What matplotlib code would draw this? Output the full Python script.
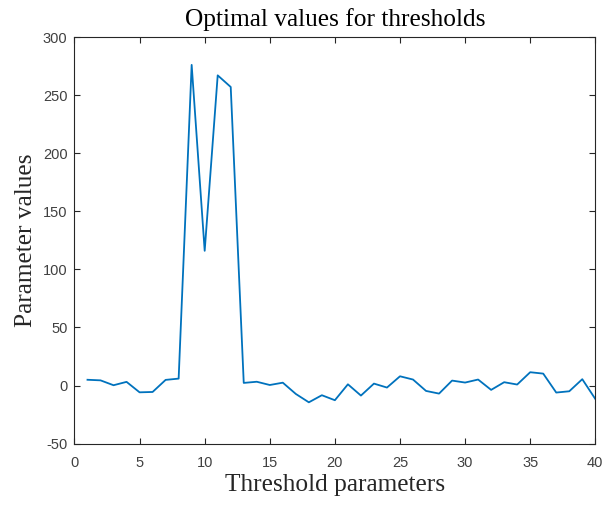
import matplotlib
matplotlib.use("Agg")
import matplotlib.pyplot as plt

plt.rcParams["axes.unicode_minus"] = False

x_values = list(range(1, 41))
param_values = [5, 4.5, 0.3, 3.2, -5.8, -5.5, 4.9, 6,
                276, 116, 267, 257,
                2.3, 3.3, 0.5, 2.5, -7.2, -14.4, -8.3, -12.6,
                1.1, -8.6, 1.7, -1.7, 8.0, 5.2, -4.6, -6.9, 4.3, 2.6,
                5.2, -3.7, 2.9, 0.9, 11.5, 10.3, -6.0, -4.9, 5.5, -11.5]
x_ticks = [0, 5, 10, 15, 20, 25, 30, 35, 40]
y_ticks = [-50, 0, 50, 100, 150, 200, 250, 300]

fig = plt.figure(figsize=(6.04, 5.07), dpi=100)
ax = fig.add_axes([0.1233, 0.1249, 0.9856 - 0.1233, 0.927 - 0.1249])
ax.plot(x_values, param_values, color="#0072BD", lw=1.3)
ax.set_xlim(0, 40)
ax.set_ylim(-50, 300)
ax.set_xticks(x_ticks)
ax.set_yticks(y_ticks)
ax.tick_params(direction="in", length=4, width=0.8, colors="#262626",
               labelsize=10.5, top=True, right=True)
ax.tick_params(axis="x", pad=9)
ax.tick_params(axis="y", pad=5)
for lbl in ax.get_xticklabels() + ax.get_yticklabels():
    lbl.set_family("Liberation Sans")
    lbl.set_color("#404040")
for s in ax.spines.values():
    s.set_color("#262626")
    s.set_linewidth(0.8)
serif = "Liberation Serif"
ax.set_title("Optimal values for thresholds", family=serif, fontsize=18.3, color="#000000", pad=8)
ax.set_xlabel("Threshold parameters", family=serif, fontsize=18.3, color="#262626", labelpad=3)
ax.set_ylabel("Parameter values", family=serif, fontsize=18.3, color="#262626", labelpad=4)
fig.savefig("out.png", dpi=100)
